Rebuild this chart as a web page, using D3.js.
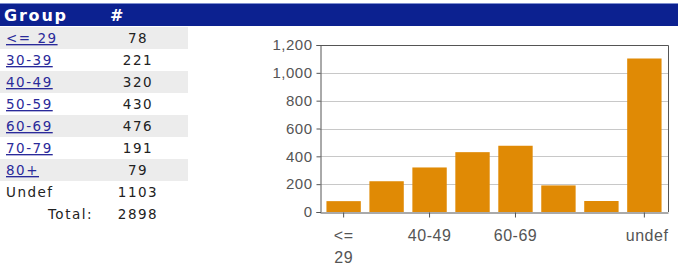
<!DOCTYPE html>
<html>
<head>
<meta charset="utf-8">
<script src="https://cdn.jsdelivr.net/npm/d3@7"></script>
<style>
  body { margin: 0; background: #fff; }
  .grp { font-family: "DejaVu Sans", Verdana, sans-serif; font-size: 13.5px; letter-spacing: 1.5px; }
  .axis text { font-family: "Liberation Sans", Arial, sans-serif; fill: #555; letter-spacing: 0.5px; }
</style>
</head>
<body>
<div id="chart"></div>
<script>
const groups = ["<= 29", "30-39", "40-49", "50-59", "60-69", "70-79", "80+", "Undef"];
const counts = [78, 221, 320, 430, 476, 191, 79, 1103];
const total = 2898;
const barLabels = ["<= 29", "30-39", "40-49", "50-59", "60-69", "70-79", "80+", "undef"];
const shownLabels = ["<= 29", "40-49", "60-69", "undef"];
const yTicks = [0, 200, 400, 600, 800, 1000, 1200];

const W = 678, H = 278;
const svg = d3.select("#chart").append("svg")
    .attr("width", W)
    .attr("height", H);

// header bar
svg.append("rect")
    .attr("x", 0).attr("y", 3)
    .attr("width", W).attr("height", 23)
    .attr("fill", "#0c2190");
svg.append("line")
    .attr("x1", 0).attr("x2", W).attr("y1", 3.5).attr("y2", 3.5)
    .attr("stroke", "#7f8fd0");
svg.append("text").attr("class", "grp")
    .attr("x", 4).attr("y", 21)
    .attr("fill", "#fff").attr("font-weight", "bold")
    .style("font-size", "16px").style("letter-spacing", "1.8px")
    .text("Group");
svg.append("text").attr("class", "grp")
    .attr("x", 110).attr("y", 21)
    .attr("fill", "#fff").attr("font-weight", "bold")
    .style("font-size", "16px")
    .text("#");

// table rows
const rowH = 22, rowTop = 27;
const rows = svg.selectAll(".row")
    .data(groups)
    .enter()
    .append("g")
    .attr("class", "row")
    .attr("transform", (d, i) => `translate(0, ${rowTop + i * rowH})`);

rows.filter((d, i) => i % 2 === 0 && i < 7)
    .append("rect")
    .attr("x", 0).attr("y", 0)
    .attr("width", 188).attr("height", rowH)
    .attr("fill", "#ececec");

rows.append("text").attr("class", "grp")
    .attr("x", 6).attr("y", 16)
    .attr("fill", (d, i) => i < 7 ? "#2a2a9a" : "#222")
    .attr("text-decoration", (d, i) => i < 7 ? "underline" : null)
    .text(d => d);

rows.append("text").attr("class", "grp")
    .attr("x", 138).attr("y", 16)
    .attr("text-anchor", "middle")
    .attr("fill", "#222")
    .text((d, i) => counts[i]);

svg.append("text").attr("class", "grp")
    .attr("x", 93).attr("y", rowTop + 8 * rowH + 16)
    .attr("text-anchor", "end").attr("fill", "#222")
    .text("Total:");
svg.append("text").attr("class", "grp")
    .attr("x", 138).attr("y", rowTop + 8 * rowH + 16)
    .attr("text-anchor", "middle").attr("fill", "#222")
    .text(total);

// bar chart
const plot = { left: 320, right: 668, top: 45, bottom: 212 };

const x = d3.scaleBand()
    .domain(barLabels)
    .range([plot.left, plot.right])
    .paddingInner(0.2)
    .paddingOuter(0.15);

const y = d3.scaleLinear()
    .domain([0, 1200])
    .range([plot.bottom, plot.top]);

svg.append("g")
    .selectAll("line")
    .data(yTicks.filter(t => t > 0 && t < 1200))
    .enter()
    .append("line")
    .attr("x1", plot.left).attr("x2", plot.right)
    .attr("y1", d => Math.round(y(d)) + 0.5)
    .attr("y2", d => Math.round(y(d)) + 0.5)
    .attr("stroke", "#c8c8c8");

svg.selectAll(".bar")
    .data(counts)
    .enter()
    .append("rect")
    .attr("class", "bar")
    .attr("x", (d, i) => x(barLabels[i]))
    .attr("width", x.bandwidth())
    .attr("y", d => y(d))
    .attr("height", d => plot.bottom - y(d))
    .attr("fill", "#e08a05");

// frame top and right
svg.append("path")
    .attr("d", `M${plot.left},${plot.top + 0.5}H${plot.right + 0.5}V${plot.bottom}`)
    .attr("fill", "none")
    .attr("stroke", "#555");

const yAxis = svg.append("g")
    .attr("class", "axis")
    .attr("transform", `translate(${plot.left + 0.5},0)`)
    .call(d3.axisLeft(y).tickValues(yTicks).tickSize(4).tickPadding(4).tickFormat(d3.format(",")));
yAxis.selectAll("text").style("font-size", "15px");
yAxis.select(".domain").attr("stroke", "#555");
yAxis.selectAll(".tick line").attr("stroke", "#555");

const xAxis = svg.append("g")
    .attr("class", "axis")
    .attr("transform", `translate(0,${plot.bottom + 0.5})`)
    .call(d3.axisBottom(x).tickValues(shownLabels).tickSize(5).tickSizeOuter(0).tickPadding(12));
xAxis.selectAll("text").style("font-size", "16px");
xAxis.select(".domain").attr("stroke", "#555");
xAxis.selectAll(".tick line").attr("stroke", "#555");
xAxis.selectAll(".tick text")
    .each(function (d) {
        if (d === "<= 29") {
            const t = d3.select(this).text(null);
            t.append("tspan").attr("x", 0).attr("dy", "0.71em").text("<=");
            t.append("tspan").attr("x", 0).attr("dy", "1.4em").text("29");
        }
        if (d === "undef") {
            d3.select(this).attr("text-anchor", "end").attr("x", 24);
        }
    });
</script>
</body>
</html>
